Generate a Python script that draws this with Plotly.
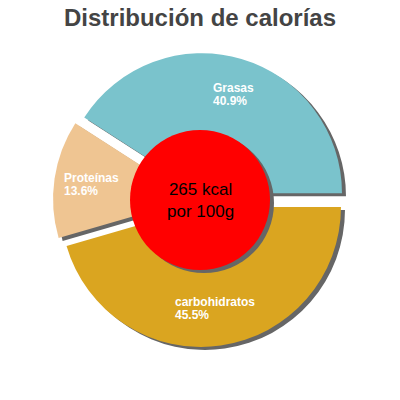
import math
import plotly.graph_objects as go

labels = ["Grasas", "Proteínas", "carbohidratos"]
values = [40.9, 13.6, 45.5]
colors = ["#7AC3CC", "#EFC592", "#DAA520"]
center_text = "265 kcal<br>por 100g"
title = "Distribución de calorías"

W = H = 400
off = 8                # page body margin, px
cx, cy = 200 - off, 200 - off   # pie centre, px in paper
r = 140                # pie radius, px
pull = 0.05
sdx, sdy = 4, 3        # shadow offset, px
font = "Liberation Sans, Arial"

half = r * (1 + pull)
dom_x = [(cx - half) / W, (cx + half) / W]
dom_y = [1 - (cy + half) / H, 1 - (cy - half) / H]
sh_x = [d + sdx / W for d in dom_x]
sh_y = [d - sdy / H for d in dom_y]

# plotly counterclockwise pies end the first slice at `rotation`,
# so rotate back by the first slice to start it at 3 o'clock
total = sum(values)
rot = 90 - values[0] / total * 360

fig = go.Figure()

# shadow pie
fig.add_trace(go.Pie(
    labels=labels, values=values, sort=False, direction="counterclockwise",
    rotation=rot, pull=pull, domain=dict(x=sh_x, y=sh_y),
    marker=dict(colors=["#666666"] * 3, line=dict(width=0)),
    textinfo="none", hoverinfo="skip", showlegend=False,
))
fig.add_trace(go.Pie(
    labels=labels, values=values, sort=False, direction="counterclockwise",
    rotation=rot, pull=pull, domain=dict(x=dom_x, y=dom_y),
    marker=dict(colors=colors, line=dict(width=0)),
    textinfo="none", showlegend=False,
))

# slice labels on bisectors, two left-aligned lines
start = 0
for lab, v in zip(labels, values):
    mid = math.radians((start + v / 2) / total * 360)
    start += v
    pct = f"{v / total * 100:.1f}%"
    d = r * pull + 0.735 * r
    px = cx + d * math.cos(mid)
    py = cy - d * math.sin(mid)
    left = px - max(len(lab), len(pct)) * 6.5 / 2
    for txt, shift in [(lab, 6.5), (pct, -6.5)]:
        fig.add_annotation(
            x=left / W, y=1 - py / H, xref="paper", yref="paper", yshift=shift,
            text=txt, showarrow=False, xanchor="left", yanchor="middle",
            font=dict(family=font, size=12, color="white", weight="bold"),
        )

# centre circle with shadow
cr = r / 2
fig.add_shape(type="circle", xref="paper", yref="paper",
              x0=(cx - cr + sdx) / W, x1=(cx + cr + sdx) / W,
              y0=1 - (cy + cr + sdy) / H, y1=1 - (cy - cr + sdy) / H,
              fillcolor="#666666", line=dict(width=0))
fig.add_shape(type="circle", xref="paper", yref="paper",
              x0=(cx - cr) / W, x1=(cx + cr) / W,
              y0=1 - (cy + cr) / H, y1=1 - (cy - cr) / H,
              fillcolor="#FF0000", line=dict(width=0))
fig.add_annotation(x=cx / W, y=1 - cy / H, xref="paper", yref="paper",
                   text=center_text, showarrow=False,
                   font=dict(family=font, size=17, color="black"))

fig.update_layout(
    width=W, height=H, margin=dict(l=0, r=0, t=0, b=0),
    paper_bgcolor="white", plot_bgcolor="white",
    title=dict(text=title, x=(200 - off) / W, xanchor="center", y=1 - (18 - off) / H,
               yanchor="middle",
               font=dict(family=font, size=24, color="#444444", weight="bold")),
)

fig.write_html("out.html")
